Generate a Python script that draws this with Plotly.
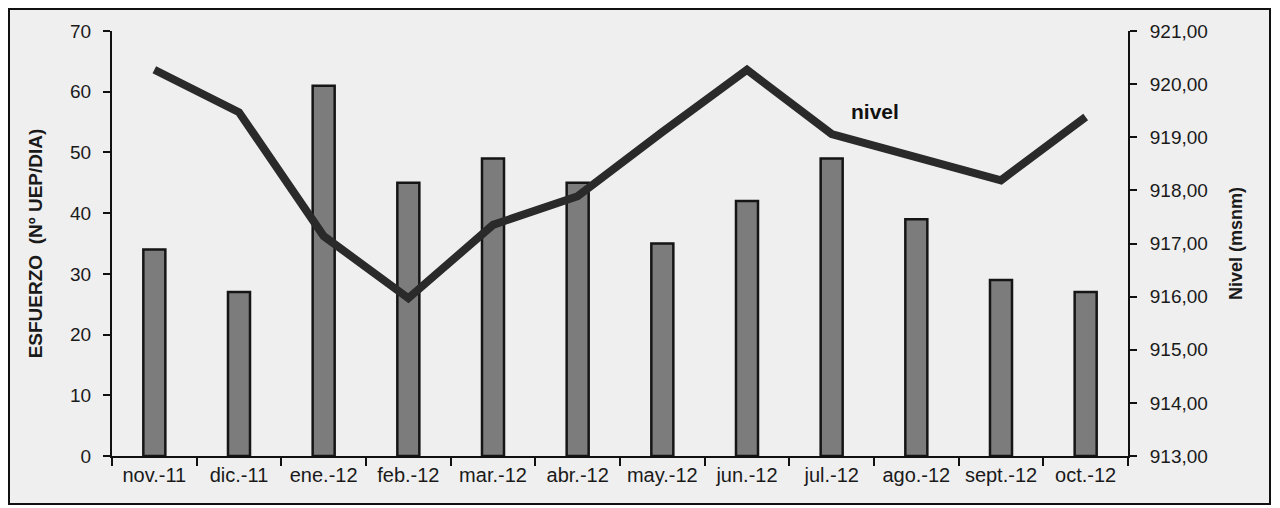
import plotly.graph_objects as go

months = ["nov.-11", "dic.-11", "ene.-12", "feb.-12", "mar.-12", "abr.-12",
          "may.-12", "jun.-12", "jul.-12", "ago.-12", "sept.-12", "oct.-12"]
esfuerzo = [34, 27, 61, 45, 49, 45, 35, 42, 49, 39, 29, 27]
nivel = [920.27, 919.47, 917.14, 915.97, 917.35, 917.89, 919.10, 920.27,
         919.06, 918.61, 918.19, 919.38]

FONT = "Liberation Sans"

W, H = 1263, 497
L, R, T, B = 104, 143, 23, 49
PW, PH = W - L - R, H - T - B

fig = go.Figure()
fig.add_trace(go.Bar(
    x=months, y=esfuerzo, width=0.26,
    marker=dict(color="#7c7c7c", line=dict(color="#151515", width=2.5)),
    name="esfuerzo", yaxis="y"))
fig.add_trace(go.Scatter(
    x=months, y=nivel, mode="lines",
    line=dict(color="#2a2a2a", width=8),
    name="nivel", yaxis="y2"))

fig.update_layout(
    width=W, height=H,
    margin=dict(l=L, r=R, t=T, b=B, autoexpand=False),
    paper_bgcolor="#efefef", plot_bgcolor="#efefef",
    showlegend=False,
    separators=",.",
    font=dict(family=FONT, size=19, color="#1a1a1a"),
    xaxis=dict(
        showline=True, linecolor="#111", linewidth=2,
        ticks="outside", tickson="boundaries", ticklen=8, tickwidth=2, tickcolor="#111",
        showgrid=False, tickfont=dict(size=20)),
    yaxis=dict(
        range=[0, 70], dtick=10, showline=True, linecolor="#111", linewidth=2,
        ticks="outside", ticklen=7, tickwidth=2, tickcolor="#111",
        showgrid=False, zeroline=False, tickfont=dict(size=19), ticklabelstandoff=8,
        title=dict(text="<b>ESFUERZO  (Nº UEP/DIA)</b>", font=dict(size=19), standoff=22)),
    yaxis2=dict(
        range=[913, 921], dtick=1, tickformat=".2f", overlaying="y", side="right",
        showline=True, linecolor="#111", linewidth=2,
        ticks="outside", ticklen=7, tickwidth=2, tickcolor="#111",
        showgrid=False, zeroline=False, tickfont=dict(size=19), ticklabelstandoff=9,
        title=dict(text="<b>Nivel (msnm)</b>", font=dict(size=18), standoff=22)),
    annotations=[dict(text="<b>nivel</b>", x=0.751, y=0.81, xref="paper", yref="paper",
                      xanchor="center", yanchor="middle",
                      showarrow=False, font=dict(size=21, color="#111"))],
    shapes=[dict(type="rect", xref="paper", yref="paper",
                 x0=-(L - 1) / PW, x1=1 + (R - 1) / PW,
                 y0=-(B - 1) / PH, y1=1 + (T - 1) / PH,
                 line=dict(color="#111", width=2))],
)

fig.write_html("out.html")
